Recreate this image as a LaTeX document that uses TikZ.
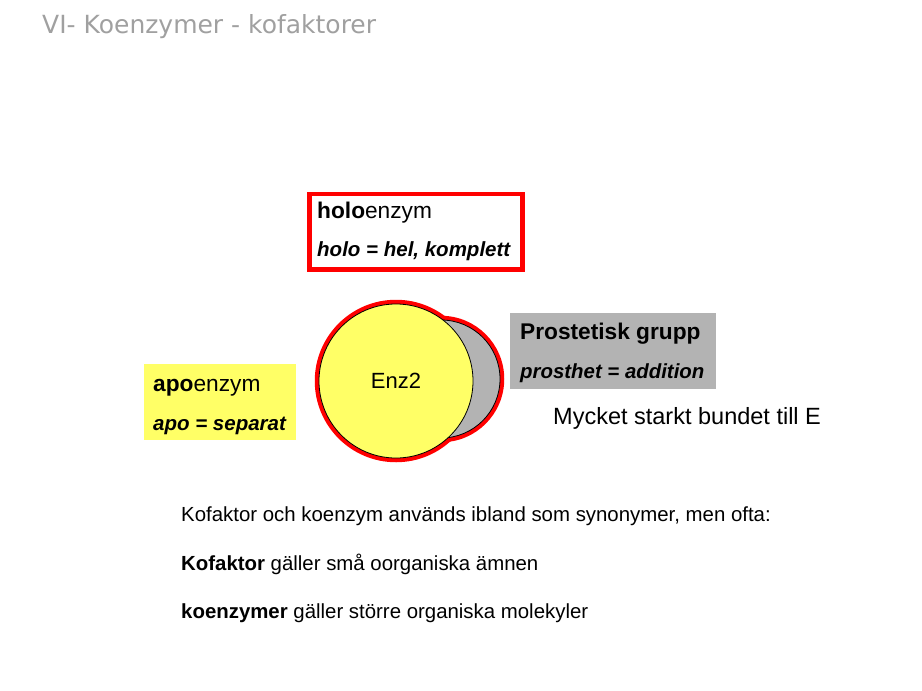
\documentclass[tikz,border=0pt]{standalone}
\usepackage{fontspec}
\setmainfont{Liberation Sans}
\newfontfamily\titlefont{DejaVu Sans}
\usetikzlibrary{positioning}
\definecolor{enzyellow}{HTML}{FFFF66}
\definecolor{grpgray}{HTML}{B3B3B3}
\definecolor{titlegray}{HTML}{A0A0A0}
\newcommand{\fs}[1]{\fontsize{#1}{#1}\selectfont}

\begin{document}
\begin{tikzpicture}[x=1pt,y=-1pt]
        \tikzstyle{txt}=[anchor=base west,inner sep=0pt]
        \tikzstyle{infobox}=[anchor=north west,inner sep=0pt]
        \useasboundingbox (0,0) rectangle (922,691);
        \node[txt,text=titlegray,font=\titlefont\fs{25}] (title) at (42,33.3) {VI- Koenzymer - kofaktorer};
        % the enzyme with its group
        \coordinate (Ec) at (396,381);
        \coordinate (Pc) at (441,379);
        \draw[red,line width=4.5pt] (Pc) circle[radius=61pt];
        \draw[red,line width=4.5pt] (Ec) circle[radius=79pt];
        \filldraw[fill=grpgray,draw=black,line width=.8pt] (Pc) circle[radius=59pt];
        \node[circle,fill=enzyellow,draw=black,line width=.8pt,minimum size=154pt,inner sep=0pt,font=\fs{22}] (enz) at (Ec) {Enz2};
        % boxes
        \node[infobox,draw=red,line width=4.5pt,minimum width=213pt,minimum height=75.5pt] (holo) at (307.25,191.55) {};
        \node[infobox,fill=enzyellow,minimum width=152pt,minimum height=76pt] (apo) at (144,364) {};
        \node[infobox,fill=grpgray,minimum width=206pt,minimum height=76pt] (grp) at (510,313) {};
        \node[txt,font=\fs{22.7}] (holo1) at (317,218.5) {\textbf{holo}enzym};
        \node[txt,font=\fs{20.5}\bfseries\itshape] (holo2) at (317,256.7) {holo = hel, komplett};
        \node[txt,font=\fs{22.7}] (apo1) at (153,391.5) {\textbf{apo}enzym};
        \node[txt,font=\fs{20.5}\bfseries\itshape] (apo2) at (153,430) {apo = separat};
        \node[txt,font=\fs{22.7}\bfseries] (grp1) at (520,339.3) {Prostetisk grupp};
        \node[txt,font=\fs{20.4}\bfseries\itshape] (grp2) at (520,378.3) {prosthet = addition};
        \node[txt,font=\fs{23.5}] (bound) at (553,424.3) {Mycket starkt bundet till E};
        % notes
        \node[txt,font=\fs{20.4}] (note1) at (181,521) {Kofaktor och koenzym används ibland som synonymer, men ofta:};
        \node[txt,font=\fs{20.4}] (note2) at (181,570) {\textbf{Kofaktor} gäller små oorganiska ämnen};
        \node[txt,font=\fs{20.4}] (note3) at (181,618.3) {\textbf{koenzymer} gäller större organiska molekyler};
\end{tikzpicture}
\end{document}
